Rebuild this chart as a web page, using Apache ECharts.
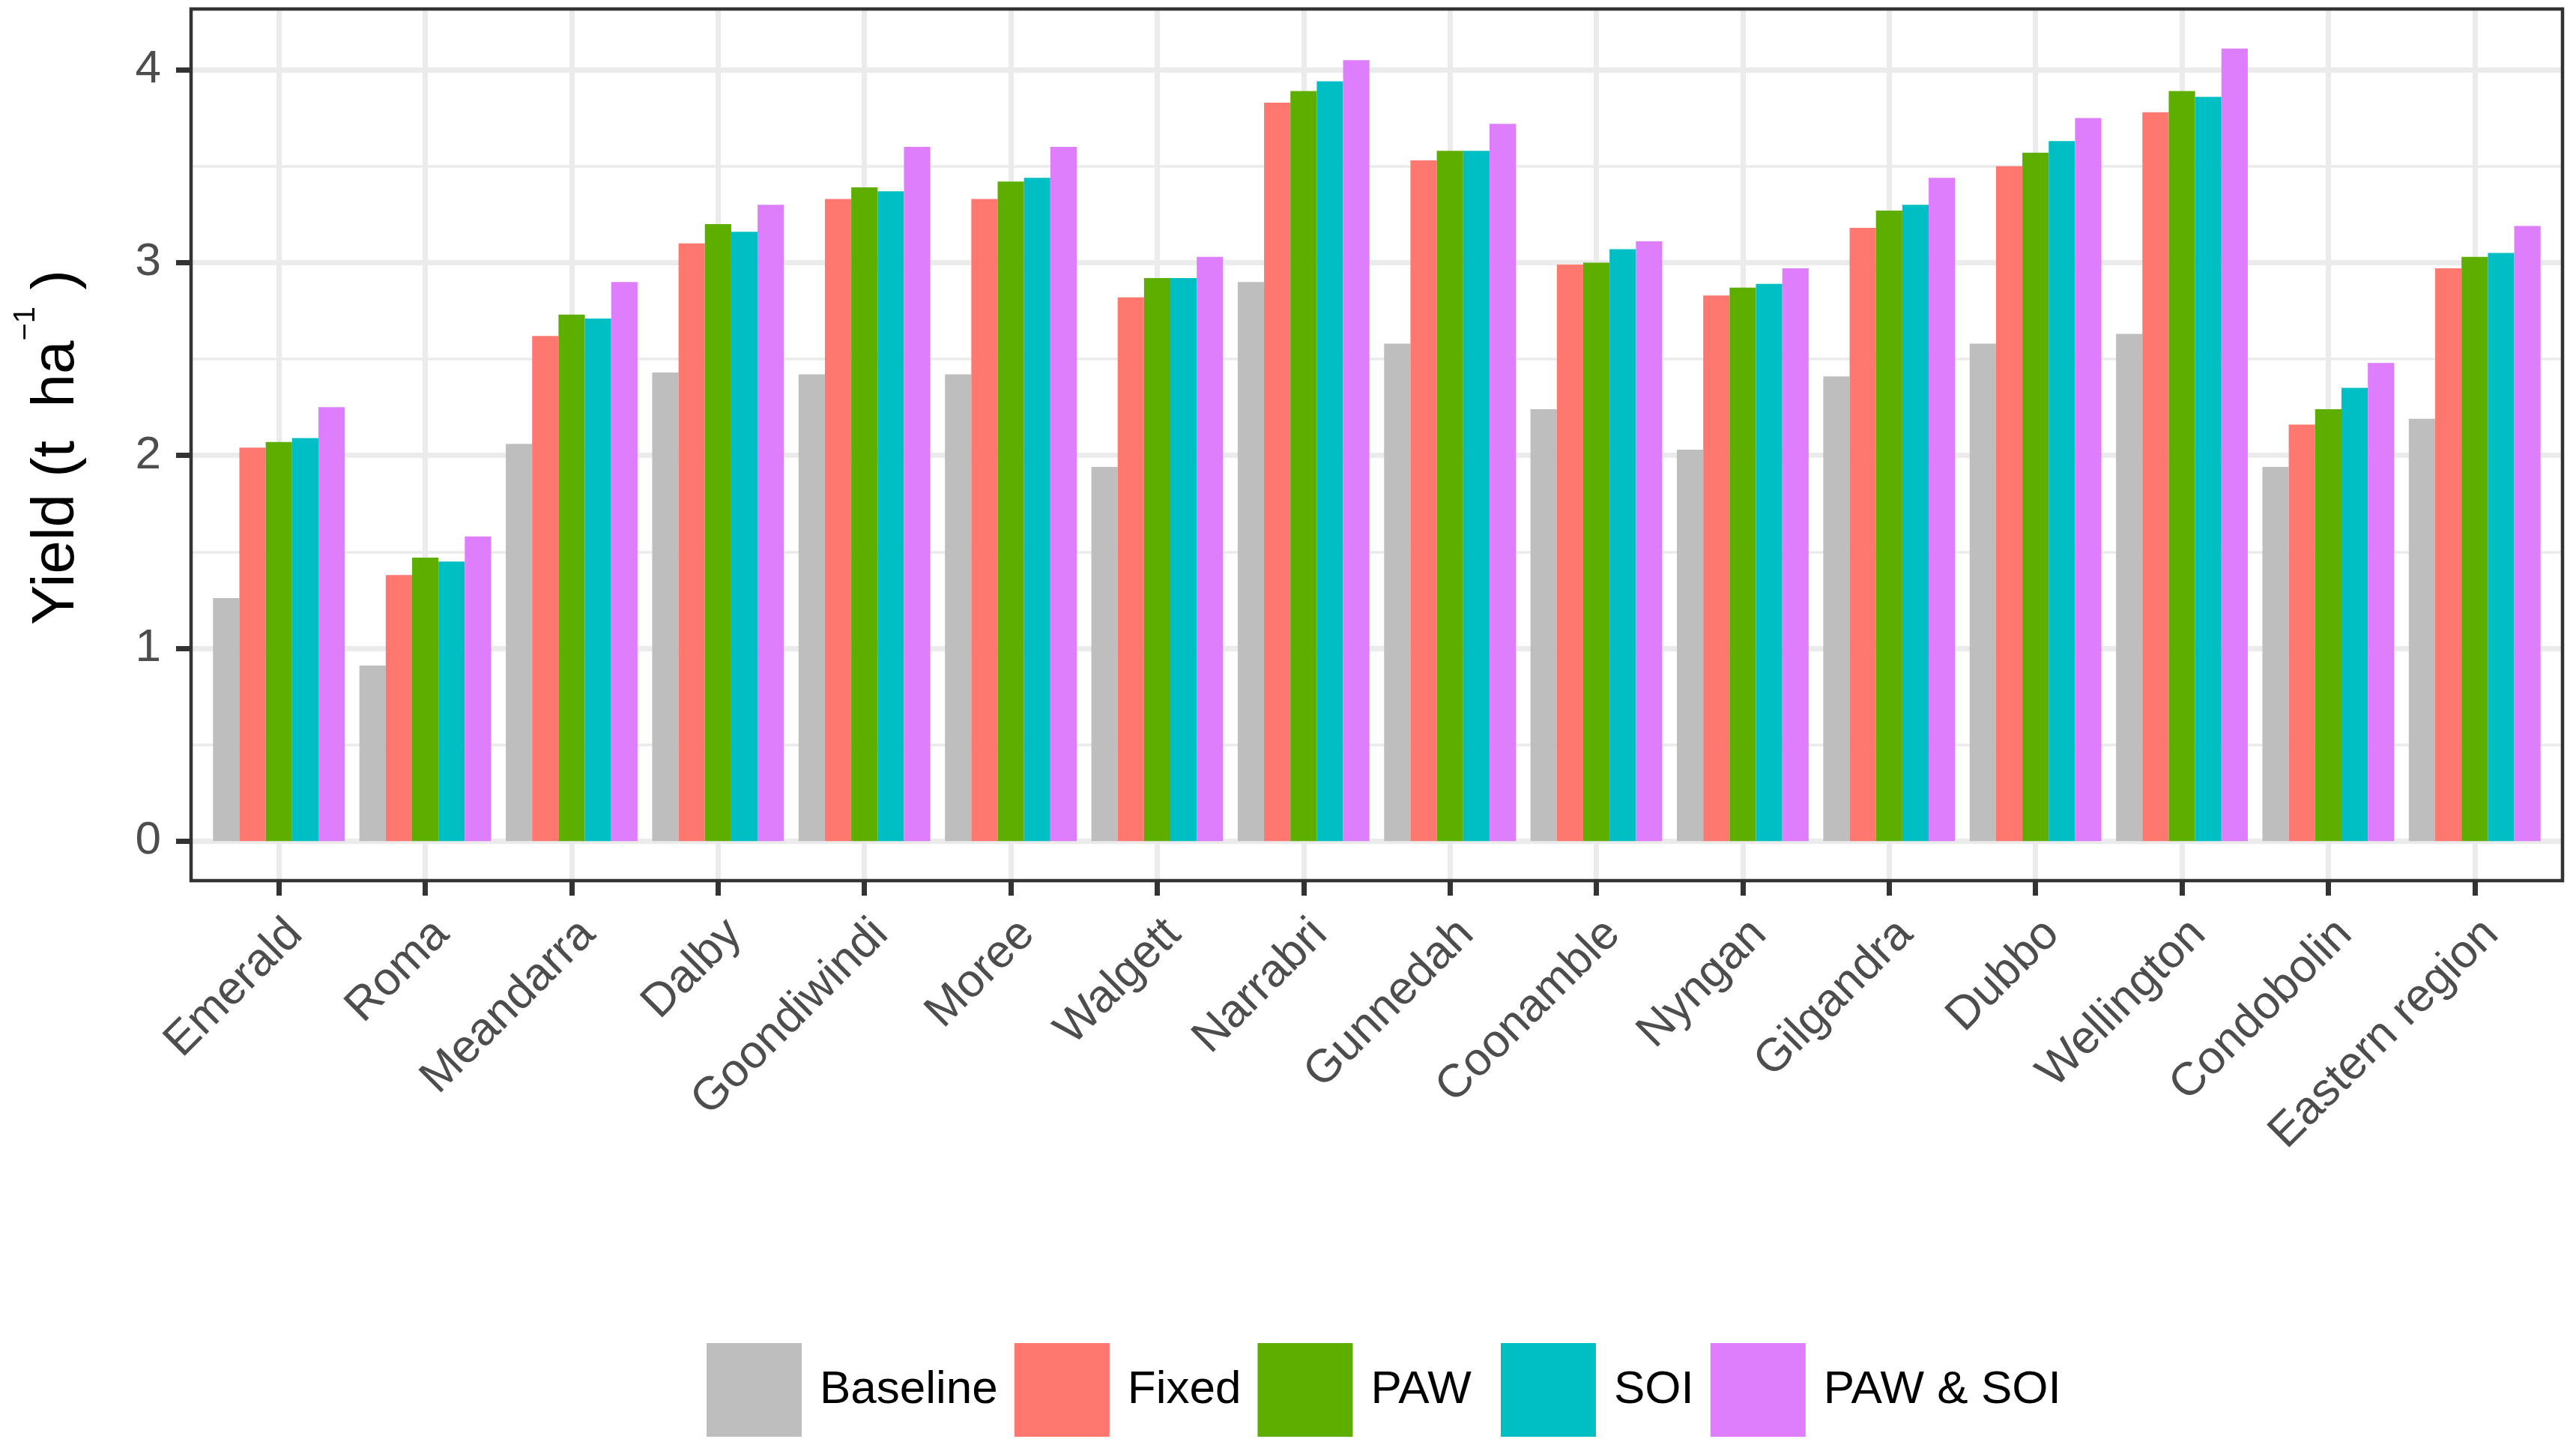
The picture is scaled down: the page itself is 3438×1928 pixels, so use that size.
<!DOCTYPE html>
<html>
<head>
<meta charset="utf-8">
<script src="https://cdn.jsdelivr.net/npm/echarts@6/dist/echarts.min.js"></script>
<style>
  html, body { margin: 0; padding: 0; background: #fff; }
  #graph { width: 3438px; height: 1928px; }
</style>
</head>
<body>
<div id="graph"></div>
<script>
var sites = ['Emerald', 'Roma', 'Meandarra', 'Dalby', 'Goondiwindi', 'Moree', 'Walgett', 'Narrabri',
    'Gunnedah', 'Coonamble', 'Nyngan', 'Gilgandra', 'Dubbo', 'Wellington', 'Condobolin', 'Eastern region'];
var seriesNames = ['Baseline', 'Fixed', 'PAW', 'SOI', 'PAW & SOI'];

var baseline = [1.26, 0.91, 2.06, 2.43, 2.42, 2.42, 1.94, 2.90, 2.58, 2.24, 2.03, 2.41, 2.58, 2.63, 1.94, 2.19];
var fixed    = [2.04, 1.38, 2.62, 3.10, 3.33, 3.33, 2.82, 3.83, 3.53, 2.99, 2.83, 3.18, 3.50, 3.78, 2.16, 2.97];
var paw      = [2.07, 1.47, 2.73, 3.20, 3.39, 3.42, 2.92, 3.89, 3.58, 3.00, 2.87, 3.27, 3.57, 3.89, 2.24, 3.03];
var soi      = [2.09, 1.45, 2.71, 3.16, 3.37, 3.44, 2.92, 3.94, 3.58, 3.07, 2.89, 3.30, 3.63, 3.86, 2.35, 3.05];
var pawSoi   = [2.25, 1.58, 2.90, 3.30, 3.60, 3.60, 3.03, 4.05, 3.72, 3.11, 2.97, 3.44, 3.75, 4.11, 2.48, 3.19];

var yTicks = [0, 1, 2, 3, 4];

var colors = ['#BEBEBE', '#FF7870', '#5EAE00', '#00BFC4', '#DE7EFC'];
var allSeries = [baseline, fixed, paw, soi, pawSoi];

var chart = echarts.init(document.getElementById('graph'));

// panel geometry (like ggplot's panel box)
var W = 3438, H = 1928;
var panel = { left: 255, right: 3420, top: 12, bottom: 1175 };
var unit = (panel.right - panel.left) / (sites.length - 1 + 1.2);

// ggplot style 5% expansion on y
var dataMax = Math.max.apply(null, [].concat.apply([], allSeries));
var yMax = dataMax * 1.05;
var yMin = -dataMax * 0.05;
function py(v) {
    return panel.bottom - (v - yMin) / (yMax - yMin) * (panel.bottom - panel.top);
}

var font = 'Liberation Sans';

var series = seriesNames.map(function (name, i) {
    return {
        name: name,
        type: 'bar',
        xAxisIndex: 0,
        yAxisIndex: 0,
        data: allSeries[i],
        barWidth: '18%',
        barGap: '0%',
        clip: false,
        itemStyle: { color: colors[i] }
    };
});

// extra room after the PAW label so the keys sit where ggplot put them
var legendPad = { 'PAW': 'g18' };

var option = {
    animation: false,
    backgroundColor: '#fff',
    textStyle: { fontFamily: font },
    grid: [
        // bars + vertical grid lines
        { left: panel.left + 0.6 * unit, right: W - (panel.right - 0.6 * unit), top: panel.top, bottom: H - panel.bottom, containLabel: false },
        // panel border
        { left: panel.left, right: W - panel.right, top: panel.top, bottom: H - panel.bottom, show: true,
          borderColor: '#333333', borderWidth: 4.5, backgroundColor: 'transparent', z: 10 },
        // y ticks 0..4
        { left: panel.left, right: W - panel.right, top: py(yTicks[yTicks.length - 1]), bottom: H - py(yTicks[0]) }
    ],
    xAxis: [{
        gridIndex: 0,
        type: 'category',
        data: sites,
        boundaryGap: false,
        position: 'bottom',
        axisLine: { show: false, onZero: false },
        axisTick: { show: true, interval: 0, length: 20, lineStyle: { color: '#333333', width: 7 } },
        axisLabel: {
            interval: 0, rotate: 45, align: 'right', verticalAlign: 'top', margin: 40,
            color: '#4D4D4D', fontSize: 62, fontFamily: font
        },
        splitLine: { show: true, interval: 0, lineStyle: { color: '#EBEBEB', width: 7 } }
    }, {
        gridIndex: 1, type: 'value', show: false
    }, {
        gridIndex: 2, type: 'value', show: false
    }],
    yAxis: [{
        gridIndex: 0,
        type: 'value',
        min: yMin,
        max: yMax,
        show: false,
        splitLine: { show: false }
    }, {
        gridIndex: 1, type: 'value', show: false, splitLine: { show: false }
    }, {
        gridIndex: 2,
        type: 'value',
        min: yTicks[0],
        max: yTicks[yTicks.length - 1],
        interval: 1,
        axisLine: { show: false, onZero: false },
        axisTick: { show: true, length: 20, lineStyle: { color: '#333333', width: 7 } },
        axisLabel: { margin: 40, color: '#4D4D4D', fontSize: 62, fontFamily: font },
        splitLine: { show: true, lineStyle: { color: '#EBEBEB', width: 7 } },
        minorTick: { show: false, splitNumber: 2 },
        minorSplitLine: { show: true, lineStyle: { color: '#EBEBEB', width: 3.5 } }
    }],
    legend: {
        data: seriesNames,
        left: 938,
        top: 1787,
        orient: 'horizontal',
        icon: 'rect',
        itemWidth: 127,
        itemHeight: 125,
        itemGap: 22,
        formatter: function (name) {
            var s = '{t|' + name + '}';
            if (legendPad[name]) {
                s += '{' + legendPad[name] + '| }';
            }
            return s;
        },
        textStyle: {
            color: '#000',
            fontSize: 62,
            fontFamily: font,
            rich: {
                t: { fontSize: 62, fontFamily: font, color: '#000', padding: [0, 0, 0, 19] },
                g18: { fontSize: 62, width: 18 }
            }
        }
    },
    graphic: [{
        type: 'text',
        x: 65,
        y: 597,
        rotation: Math.PI / 2,
        style: {
            text: '{a|Yield (t  ha}{s|\u22121}{a| )}',
            align: 'center',
            verticalAlign: 'middle',
            fill: '#000',
            rich: {
                a: { fontSize: 80, fontFamily: font, color: '#000', lineHeight: 101, verticalAlign: 'bottom' },
                s: { fontSize: 40, fontFamily: font, color: '#000', lineHeight: 40, verticalAlign: 'top' }
            }
        }
    }],
    series: series
};

chart.setOption(option);
</script>
</body>
</html>
